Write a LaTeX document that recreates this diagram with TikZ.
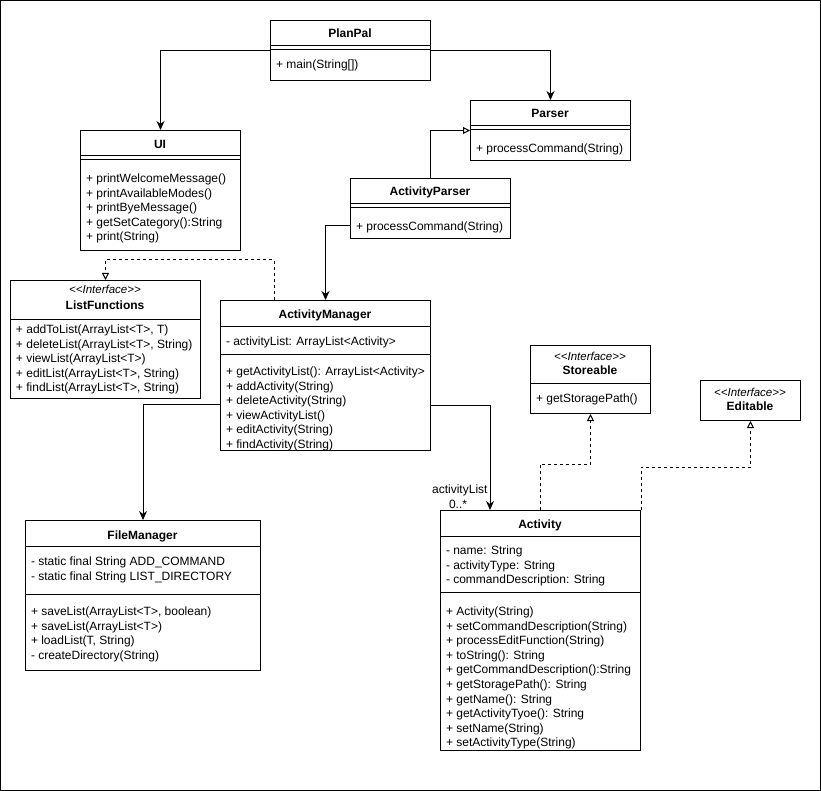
\documentclass[tikz,border=0pt]{standalone}
\usepackage{fontspec}
\setmainfont{Liberation Sans}
\usetikzlibrary{arrows.meta,calc}
\newcommand\fsz{\fontsize{12pt}{14.6pt}\selectfont}
\newcommand\fst{\fontsize{11.5pt}{13pt}\selectfont\itshape}
\newcommand\sepline[2]{\draw ($(#1.north west)+(0,#2)$) -- ($(#1.north east)+(0,#2)$);}
\newcommand\intf{{<}{<}Interface{>}{>}}
\begin{document}
\begin{tikzpicture}[x=1pt,y=-1pt, line width=1pt,
 box/.style={draw, fill=white, rectangle, anchor=north west, inner sep=0pt, line width=1pt},
 ttl/.style={anchor=base, inner sep=0pt, font=\fsz\bfseries, yshift=-1pt},
 txt/.style={anchor=base west, inner sep=0pt, font=\fsz, yshift=-1.5pt},
 stereo/.style={anchor=base, inner sep=0pt, font=\fst, yshift=-1pt},
 assoc/.style={draw, -{Stealth[length=9pt,width=8pt,inset=3pt]}},
 inherit/.style={draw, -{Triangle[open,length=7pt,width=7pt,fill=white]}},
 realize/.style={inherit, dash pattern=on 3pt off 3pt},
]
\useasboundingbox (0,0) rectangle (821,791);
\draw (0.5,0.5) rectangle (820.5,790.5);

% ---- boxes ----
\node[box, minimum width=160pt, minimum height=60pt] (pp) at (270,20) {};
\node[box, minimum width=160pt, minimum height=60pt] (par) at (470,100) {};
\node[box, minimum width=160pt, minimum height=120pt] (ui) at (80,130) {};
\node[box, minimum width=160pt, minimum height=60pt] (ap) at (350,178) {};
\node[box, minimum width=190pt, minimum height=118pt] (lf) at (10,280) {};
\node[box, minimum width=210pt, minimum height=150pt] (am) at (220,300) {};
\node[box, minimum width=120pt, minimum height=68pt] (st) at (530,345) {};
\node[box, minimum width=100pt, minimum height=40pt] (ed) at (700,380) {};
\node[box, minimum width=235pt, minimum height=150pt] (fm) at (25,520) {};
\node[box, minimum width=200pt, minimum height=240pt] (act) at (440,510) {};

% ---- separators ----
\sepline{pp}{26}\sepline{pp}{30}
\sepline{par}{26}\sepline{par}{30}
\sepline{ui}{26}\sepline{ui}{30}
\sepline{ap}{26}\sepline{ap}{30}
\sepline{lf}{39}
\sepline{am}{26}\sepline{am}{54}
\sepline{st}{38}
\sepline{fm}{26}\sepline{fm}{74}
\sepline{act}{26}\sepline{act}{82}

% ---- titles ----
\node[ttl] (pp-t) at (350,37) {PlanPal};
\node[ttl] (par-t) at (550,117) {Parser};
\node[ttl] (ui-t) at (160,148) {UI};
\node[ttl] (ap-t) at (430,195) {ActivityParser};
\node[stereo] (lf-s) at (105,293) {\intf};
\node[ttl] (lf-t) at (105,308) {ListFunctions};
\node[ttl] (am-t) at (325,317) {ActivityManager};
\node[stereo] (st-s) at (590,359) {\intf};
\node[ttl] (st-t) at (590,373) {Storeable};
\node[stereo] (ed-s) at (750,395) {\intf};
\node[ttl] (ed-t) at (750,409) {Editable};
\node[ttl] (fm-t) at (142.5,538) {FileManager};
\node[ttl] (act-t) at (540,527) {Activity};

% ---- members ----
\node[txt] (pp-m) at (275.5,67) {+ main(String[])};
\node[txt] (par-m) at (475.5,151) {+ processCommand(String)};
\node[txt] (ap-m) at (355.5,229) {+ processCommand(String)};
\node[txt] (st-m) at (535.5,401) {+ getStoragePath()};
\node[txt] (am-a) at (225.5,344) {- activityList: ArrayList<Activity>};

\foreach \t [count=\i from 0] in {{+ printWelcomeMessage()},{+ printAvailableModes()},{+ printByeMessage()},{+ getSetCategory():String},{+ print(String)}}
  \node[txt] (ui-m\i) at (85.5,{181+\i*14.6}) {\t};

\foreach \t [count=\i from 0] in {{+ addToList(ArrayList<T>, T)},{+ deleteList(ArrayList<T>, String)},{+ viewList(ArrayList<T>)},{+ editList(ArrayList<T>, String)},{+ findList(ArrayList<T>, String)}}
  \node[txt] (lf-m\i) at (15.5,{332+\i*14.6}) {\t};

\foreach \t [count=\i from 0] in {{+ getActivityList(): ArrayList<Activity>},{+ addActivity(String)},{+ deleteActivity(String)},{+ viewActivityList()},{+ editActivity(String)},{+ findActivity(String)}}
  \node[txt] (am-m\i) at (225.5,{374+\i*14.6}) {\t};

\foreach \t [count=\i from 0] in {{- static final String ADD\_COMMAND},{- static final String LIST\_DIRECTORY}}
  \node[txt] (fm-a\i) at (30.5,{564+\i*14.6}) {\t};

\foreach \t [count=\i from 0] in {{+ saveList(ArrayList<T>, boolean)},{+ saveList(ArrayList<T>)},{+ loadList(T, String)},{- createDirectory(String)}}
  \node[txt] (fm-m\i) at (30.5,{614+\i*14.6}) {\t};

\foreach \t [count=\i from 0] in {{- name: String},{- activityType: String},{- commandDescription: String}}
  \node[txt] (act-a\i) at (445.5,{553+\i*14.6}) {\t};

\foreach \t [count=\i from 0] in {{+ Activity(String)},{+ setCommandDescription(String)},{+ processEditFunction(String)},{+ toString(): String},{+ getCommandDescription():String},{+ getStoragePath(): String},{+ getName(): String},{+ getActivityTyoe(): String},{+ setName(String)},{+ setActivityType(String)}}
  \node[txt] (act-m\i) at (445.5,{614+\i*14.6}) {\t};

% ---- connectors ----
\draw[assoc] (pp.west) -| (ui.north);
\draw[assoc] (pp.east) -| (par.north);
\draw[inherit] (ap.north) |- (par.west);
\draw[assoc] ($(ap.south west)+(0,-13)$) -| (am.north);
\draw[realize] ($(am.north west)+(54,0)$) |- ($(lf.north)+(0,-20)$) -- (lf.north);
\draw[assoc] ($(am.south west)+(0,-47)$) -| (fm.north);
\draw[assoc] ($(am.south east)+(0,-46)$) -| ($(act.north west)+(50,0)$);
\draw[realize] ($(act.north west)+(100,0)$) |- ($(st.south)+(0,50)$) -- (st.south);
\draw[realize] (act.north east) |- ($(ed.south)+(0,46)$) -- (ed.south);

\node[txt, anchor=base east] (lbl1) at (488,492) {activityList};
\node[anchor=base, inner sep=0pt, font=\fsz, yshift=-1.5pt] (lbl2) at (458,507) {0..*};
\end{tikzpicture}
\end{document}
